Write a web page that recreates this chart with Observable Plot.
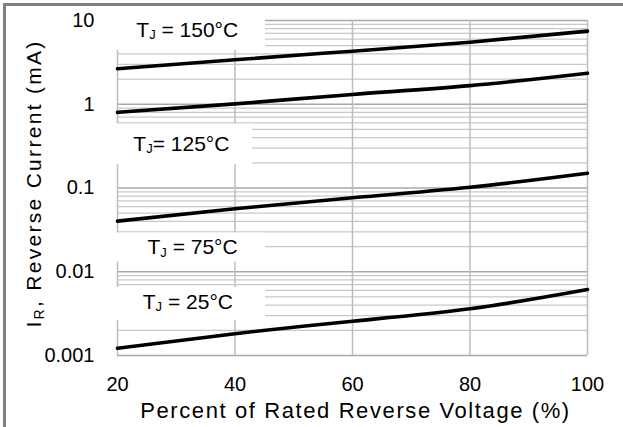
<!DOCTYPE html>
<html><head><meta charset="utf-8">
<script src="https://cdn.jsdelivr.net/npm/d3@7"></script>
<script src="https://cdn.jsdelivr.net/npm/@observablehq/plot@0.6"></script>
<style>
html,body{margin:0;padding:0;background:#fff;}
#wrap{position:relative;width:623px;height:427px;overflow:hidden;}
#frame{position:absolute;left:3px;top:3px;right:0;bottom:0;border-left:3.5px solid #808080;border-top:3.5px solid #808080;pointer-events:none;}
#wrap svg{display:block;}
</style></head><body><div id="wrap"><div id="frame"></div></div>
<script>
// ---- data ----
const voltagePct = [20, 40, 60, 80, 100];
const iR150 = [2.65, 3.40, 4.30, 5.51, 7.46];
const iR125 = [0.80, 1.01, 1.31, 1.67, 2.35];
const iR75  = [0.0402, 0.0565, 0.0764, 0.102, 0.150];
const iR25  = [0.00122, 0.00182, 0.00257, 0.00361, 0.00614];
const seriesNames = ["150", "125", "75", "25"];
const seriesValues = [iR150, iR125, iR75, iR25];

const xTicks = [20, 40, 60, 80, 100];
const yTicks = [0.001, 0.01, 0.1, 1, 10];
const yTickLabels = ["0.001", "0.01", "0.1", "1", "10"];
const minorMultipliers = [2, 3, 4, 5, 6, 7, 8, 9];

const labelMain = ["T", "T", "T", "T"];
const labelSub  = ["J", "J", "J", "J"];
const labelRest = [" = 150°C", "= 125°C", " = 75°C", " = 25°C"];
// annotation anchors (data units)
const labelX = [23.2, 22.7, 25.1, 24.3];
const labelY = [6.44, 0.28, 0.0161, 0.00364];
const boxX1 = [19.5, 19.5, 19.5, 19.5];
const boxX2 = [45.2, 43.0, 45.2, 45.2];
const boxY1 = [4.4, 0.19, 0.013, 0.0026];
const boxY2 = [11, 0.58, 0.029, 0.0065];

const xTitle = "Percent of Rated Reverse Voltage (%)";
const yTitleParts = ["I", "R", ", Reverse Current (mA)"];

// ---- tables ----
const table = seriesNames.flatMap((s, k) => voltagePct.map((x, i) => ({series: s, x, y: seriesValues[k][i]})));
const minorGrid = yTicks.slice(0, -1).flatMap(d => minorMultipliers.map(m => +(d * m).toPrecision(3)));
const idx = labelMain.map((_, i) => i);
const font = '"Liberation Sans", Arial, Helvetica, sans-serif';

const chart = Plot.plot({
  width: 623, height: 427,
  marginTop: 20, marginRight: 36, marginBottom: 72, marginLeft: 117,
  style: {fontFamily: font, fontSize: "20px", color: "#000", background: "transparent"},
  x: {domain: [20, 100], ticks: xTicks, tickSize: 0, tickPadding: 21, label: null, tickFormat: d => String(d)},
  y: {type: "log", domain: [0.001, 10], ticks: yTicks, tickSize: 0, tickPadding: 23, label: null,
      tickFormat: d => yTickLabels[yTicks.findIndex(t => Math.abs(t - d) / t < 1e-6)]},
  marks: [
    Plot.ruleY(minorGrid, {y: d => d, x1: 20, x2: 100, stroke: "#c8c8c8", strokeWidth: 1.2}),
    Plot.ruleY(yTicks, {y: d => d, x1: 20, x2: 100, stroke: "#a8a8a8", strokeWidth: 1.4}),
    Plot.ruleX(xTicks, {x: d => d, y1: 0.001, y2: 10, stroke: "#bdbdbd", strokeWidth: 1.5}),
    Plot.rect(idx, {x1: i => boxX1[i], x2: i => boxX2[i], y1: i => boxY1[i], y2: i => boxY2[i], fill: "white"}),
    Plot.line(table, {x: "x", y: "y", z: "series", stroke: "#000", strokeWidth: 3.6, curve: "natural"}),
    Plot.text(idx, {x: i => labelX[i], y: i => labelY[i], text: i => labelMain[i] + labelSub[i] + labelRest[i],
      textAnchor: "start", lineAnchor: "bottom", fontSize: 21, fill: "#000", ariaDescription: "tj-label"}),
    Plot.text([xTitle], {frameAnchor: "bottom", text: d => d, dx: 3, dy: 62, textAnchor: "middle", lineAnchor: "bottom",
      fontSize: 22, fill: "#000", ariaDescription: "x-title"}),
    Plot.text([yTitleParts.join("")], {frameAnchor: "left", text: d => d, rotate: -90, dx: -77, dy: -4.5,
      textAnchor: "middle", lineAnchor: "bottom", fontSize: 21, fill: "#000", ariaDescription: "y-title"})
  ]
});

document.getElementById("wrap").insertBefore(chart, document.getElementById("frame"));

const svg = d3.select(chart);
svg.selectAll('g[aria-description="tj-label"] text').each(function (i) {
  const t = d3.select(this).style("white-space", "pre");
  t.text(null);
  t.append("tspan").text(labelMain[i]);
  t.append("tspan").attr("font-size", 13).attr("dy", 2.5).text(labelSub[i]);
  t.append("tspan").attr("dy", -2.5).text(labelRest[i]);
});
svg.selectAll('g[aria-description="x-title"] text').style("letter-spacing", "1.6px");
svg.selectAll('g[aria-description="y-title"] text').each(function () {
  const t = d3.select(this).style("white-space", "pre").style("letter-spacing", "2.3px");
  t.text(null);
  t.append("tspan").text(yTitleParts[0]);
  t.append("tspan").attr("font-size", 14).attr("dy", 3).text(yTitleParts[1]);
  t.append("tspan").attr("dy", -3).text(yTitleParts[2]);
});
</script></body></html>
